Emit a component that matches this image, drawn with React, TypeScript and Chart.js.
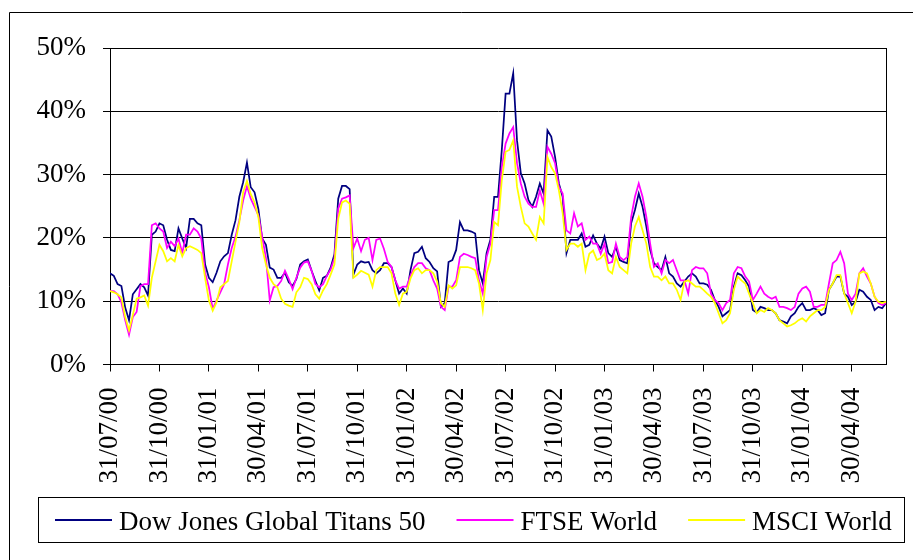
import React, { useEffect, useRef } from "react";
import { Chart, registerables } from "chart.js";

Chart.register(...registerables);

// Quarter-end tick labels (13 weekly observations per quarter)
const quarterLabels = [
  "31/07/00", "31/10/00", "31/01/01", "30/04/01", "31/07/01", "31/10/01",
  "31/01/02", "30/04/02", "31/07/02", "31/10/02", "31/01/03", "30/04/03",
  "31/07/03", "31/10/03", "31/01/04", "30/04/04",
];
const weeksPerQuarter = 13;

const seriesNames = ["Dow Jones Global Titans 50", "FTSE World", "MSCI World"];
const seriesColors = ["#000080", "#FF00FF", "#FFFF00"];

// Weekly volatility readings (%)
const dowJones = [
  14.4, 14.0, 12.7, 12.4, 9.0, 7.0, 11.1, 11.9, 12.7, 12.2, 10.9, 20.5, 21.0,
  22.3, 22.0, 19.7, 18.1, 17.9, 21.5, 19.9, 18.4, 23.0, 23.0, 22.3, 22.0, 15.8,
  13.7, 13.0, 14.5, 16.3, 17.1, 17.6, 20.5, 22.8, 26.5, 28.8, 31.9, 28.0, 27.2,
  24.6, 19.9, 18.9, 15.3, 15.0, 13.7, 13.7, 14.5, 13.0, 12.4, 13.5, 15.8, 16.3,
  16.6, 14.8, 13.2, 11.7, 13.7, 14.0, 15.3, 17.4, 26.2, 28.2, 28.2, 27.7, 14.2,
  15.8, 16.3, 16.1, 16.2, 14.9, 14.4, 14.9, 16.0, 16.0, 15.4, 13.3, 11.2, 12.0,
  11.2, 14.9, 17.6, 17.8, 18.6, 16.8, 16.2, 15.2, 14.7, 9.1, 9.7, 16.2, 16.5,
  18.1, 22.5, 21.2, 21.2, 21.0, 20.7, 14.9, 12.8, 17.6, 19.7, 26.5, 26.5, 33.9,
  42.8, 42.8, 46.0, 35.4, 30.2, 28.6, 26.0, 24.9, 26.5, 28.6, 27.0, 37.0, 36.0,
  32.8, 28.6, 26.5, 17.6, 19.7, 19.7, 19.7, 20.7, 18.6, 18.9, 20.4, 19.1, 18.3,
  20.2, 17.6, 17.0, 18.6, 16.5, 16.2, 16.0, 22.3, 24.4, 27.0, 24.9, 21.8, 18.1,
  16.0, 15.4, 14.9, 17.0, 14.4, 13.9, 12.8, 12.3, 13.1, 13.9, 14.4, 13.9, 12.8,
  12.8, 12.6, 11.8, 10.2, 9.1, 7.6, 8.1, 8.6, 12.3, 14.4, 14.1, 13.3, 12.3, 8.6,
  8.2, 9.1, 8.9, 8.6, 8.6, 8.1, 7.0, 6.8, 6.5, 7.6, 8.1, 9.1, 9.7, 8.6, 8.6, 8.9,
  8.6, 7.8, 8.1, 11.8, 12.8, 13.9, 13.9, 11.2, 10.7, 9.4, 9.9, 11.8, 11.5, 10.7,
  10.2, 8.6, 9.1, 8.9, 9.7,
];

const ftseWorld = [
  11.6, 11.6, 11.1, 9.8, 7.0, 4.7, 7.5, 8.3, 12.4, 12.7, 12.7, 22.0, 22.3, 21.5,
  21.0, 18.4, 19.4, 18.7, 19.9, 17.6, 20.5, 20.5, 21.5, 21.0, 19.9, 14.5, 12.2,
  8.8, 10.1, 11.4, 12.7, 15.8, 18.4, 20.2, 22.8, 25.9, 28.2, 26.2, 24.9, 23.6,
  20.2, 16.8, 10.1, 12.2, 12.4, 13.2, 14.8, 13.5, 11.9, 13.7, 15.3, 16.1, 16.3,
  14.8, 12.7, 12.2, 12.7, 14.0, 15.0, 16.8, 24.6, 26.2, 26.4, 26.7, 18.4, 19.9,
  17.9, 19.7, 20.0, 16.5, 19.7, 19.9, 18.3, 16.2, 15.4, 13.3, 12.0, 12.3, 12.3,
  14.1, 15.4, 16.0, 16.0, 15.2, 14.9, 13.3, 12.0, 9.1, 8.6, 12.3, 12.3, 13.3,
  17.0, 17.5, 17.3, 17.0, 16.8, 13.3, 11.2, 17.0, 19.1, 24.4, 24.4, 31.2, 34.9,
  36.5, 37.5, 31.8, 28.6, 26.5, 25.4, 24.9, 24.9, 27.5, 25.4, 34.4, 33.3, 31.8,
  28.1, 27.0, 21.2, 20.7, 23.9, 21.8, 22.3, 19.7, 20.2, 19.1, 19.1, 17.5, 19.1,
  16.0, 16.2, 19.1, 17.0, 16.5, 17.0, 23.3, 26.5, 28.6, 26.5, 23.3, 19.1, 15.4,
  16.0, 14.4, 16.5, 16.0, 16.5, 14.9, 13.3, 13.3, 11.2, 14.9, 15.4, 15.2, 15.2,
  14.4, 11.2, 10.2, 9.7, 8.6, 9.7, 10.2, 14.4, 15.4, 15.2, 13.9, 13.1, 10.2,
  11.2, 12.3, 11.2, 10.7, 10.4, 10.7, 9.1, 9.1, 8.9, 8.6, 9.1, 11.2, 12.0, 12.3,
  11.5, 9.1, 9.1, 9.4, 9.4, 12.8, 16.0, 16.5, 17.8, 16.0, 11.2, 10.2, 11.2, 14.4,
  15.2, 13.9, 12.8, 10.7, 9.7, 9.4, 9.7,
];

const msciWorld = [
  11.6, 11.4, 11.1, 10.6, 7.5, 5.4, 7.8, 10.4, 10.6, 10.9, 9.3, 13.7, 16.3, 18.9,
  17.9, 16.3, 16.8, 16.3, 18.9, 17.1, 18.4, 18.7, 18.4, 18.1, 17.6, 13.7, 10.1,
  8.5, 9.8, 12.2, 12.7, 13.2, 16.3, 19.4, 22.5, 27.2, 29.0, 26.9, 25.6, 23.3,
  18.4, 15.8, 13.7, 12.7, 12.2, 10.4, 9.6, 9.3, 9.1, 11.4, 12.2, 13.7, 13.5,
  12.7, 11.1, 10.4, 11.7, 12.7, 14.2, 15.8, 23.0, 25.6, 25.9, 25.4, 13.7, 14.2,
  14.8, 14.5, 14.2, 12.3, 14.9, 15.4, 15.4, 15.4, 14.4, 11.2, 9.4, 11.2, 11.5,
  13.6, 14.9, 15.2, 14.4, 14.9, 14.9, 14.4, 13.1, 9.7, 9.1, 12.5, 12.0, 12.5,
  15.4, 15.4, 15.4, 15.2, 14.9, 12.8, 8.6, 14.4, 16.5, 22.5, 22.0, 29.1, 33.6,
  33.9, 35.4, 28.1, 24.9, 22.3, 21.8, 20.7, 19.7, 23.3, 22.3, 32.8, 31.2, 30.2,
  27.5, 23.9, 18.1, 19.1, 19.1, 18.6, 19.1, 14.9, 17.5, 18.0, 16.5, 16.8, 17.5,
  14.9, 14.4, 17.0, 15.4, 14.9, 14.4, 19.1, 21.8, 23.3, 21.2, 19.1, 15.4, 13.9,
  13.9, 13.3, 13.9, 12.8, 12.8, 11.8, 10.2, 13.1, 13.3, 12.8, 12.3, 12.3, 11.8,
  11.2, 10.7, 9.7, 8.1, 6.5, 7.0, 8.1, 11.8, 13.9, 13.3, 12.8, 11.2, 9.7, 8.1,
  8.6, 8.3, 8.9, 8.6, 8.1, 7.0, 6.5, 6.0, 6.2, 6.5, 7.0, 7.3, 6.8, 7.6, 8.1, 8.6,
  8.6, 9.1, 11.8, 12.8, 14.1, 14.1, 11.2, 9.7, 8.1, 9.9, 14.4, 14.7, 14.4, 12.8,
  10.7, 9.9, 9.7, 9.9,
];

const yTicks = [0, 10, 20, 30, 40, 50];

const FONT_FAMILY = "'Times New Roman', 'Liberation Serif', serif";
const FONT_SIZE = 27;

const framePlugin = {
  id: "frameAndLegend",
  afterDraw(chart: any) {
    const ctx = chart.ctx as CanvasRenderingContext2D;
    const { right, top, bottom } = chart.chartArea;
    ctx.save();
    ctx.strokeStyle = "#000";
    ctx.lineWidth = 1;
    // outer chart frame
    ctx.beginPath();
    ctx.moveTo(9.5, 560);
    ctx.lineTo(9.5, 12.5);
    ctx.lineTo(913, 12.5);
    ctx.stroke();
    // plot area right border
    ctx.beginPath();
    ctx.moveTo(Math.round(right) + 0.5, top);
    ctx.lineTo(Math.round(right) + 0.5, bottom);
    ctx.stroke();
    // legend box
    ctx.strokeRect(38.5, 497.5, 866, 45);
    ctx.font = `${FONT_SIZE}px ${FONT_FAMILY}`;
    ctx.textBaseline = "alphabetic";
    ctx.textAlign = "left";
    let x = 55;
    chart.data.datasets.forEach((ds: any) => {
      ctx.strokeStyle = ds.borderColor;
      ctx.lineWidth = 2;
      ctx.beginPath();
      ctx.moveTo(x, 520);
      ctx.lineTo(x + 57, 520);
      ctx.stroke();
      x += 57 + 7;
      ctx.fillStyle = "#000";
      ctx.fillText(ds.label, x, 529.5);
      x += ctx.measureText(ds.label).width + 31;
    });
    ctx.restore();
  },
};

export default function App() {
  const canvasRef = useRef<HTMLCanvasElement | null>(null);

  useEffect(() => {
    if (!canvasRef.current) return;
    const series = [dowJones, ftseWorld, msciWorld];
    const lastIndex = dowJones.length - 1;
    const quarterIdx = quarterLabels.map((_, k) => k * weeksPerQuarter);
    const chart = new Chart(canvasRef.current, {
      type: "line",
      data: {
        datasets: series.map((vals, s) => ({
          label: seriesNames[s],
          data: vals.map((v, i) => ({ x: i, y: v })),
          borderColor: seriesColors[s],
          backgroundColor: seriesColors[s],
          borderWidth: 1.75,
          pointRadius: 0,
          tension: 0,
          fill: false,
          order: 2 - s,
        })),
      },
      options: {
        animation: false,
        responsive: false,
        events: [],
        layout: { padding: { left: 0, right: 27, top: 48, bottom: 65.5 } },
        plugins: {
          legend: { display: false },
          tooltip: { enabled: false },
          title: { display: false },
        },
        scales: {
          x: {
            type: "linear",
            min: 0,
            max: lastIndex,
            afterBuildTicks: (axis: any) => {
              axis.ticks = quarterIdx.map((v) => ({ value: v }));
            },
            afterFit: (axis: any) => {
              axis.height = 130;
            },
            grid: {
              drawOnChartArea: false,
              drawTicks: true,
              tickLength: 7,
              color: "#000",
              lineWidth: 1,
            },
            border: { display: true, color: "#000", width: 1 },
            ticks: {
              autoSkip: false,
              maxRotation: 90,
              minRotation: 90,
              padding: 16,
              color: "#000",
              font: { family: FONT_FAMILY, size: FONT_SIZE },
              callback: (value: any) => {
                const k = quarterIdx.indexOf(Number(value));
                return k >= 0 ? quarterLabels[k] : "";
              },
            },
          },
          y: {
            type: "linear",
            min: 0,
            max: 50,
            afterBuildTicks: (axis: any) => {
              axis.ticks = yTicks.map((v) => ({ value: v }));
            },
            afterFit: (axis: any) => {
              axis.width = 110;
            },
            grid: {
              drawOnChartArea: true,
              drawTicks: true,
              tickLength: 7,
              color: "#000",
              lineWidth: 1,
            },
            border: { display: true, color: "#000", width: 1 },
            ticks: {
              padding: 17,
              color: "#000",
              font: { family: FONT_FAMILY, size: FONT_SIZE },
              callback: (value: any) => `${value}%`,
            },
          },
        },
      },
      plugins: [framePlugin],
    });
    return () => chart.destroy();
  }, []);

  return (
    <div
      style={{
        position: "absolute",
        left: 0,
        top: 0,
        width: 913,
        height: 560,
        background: "#fff",
        overflow: "hidden",
      }}
    >
      <canvas
        ref={canvasRef}
        width={913}
        height={560}
        style={{ display: "block", width: 913, height: 560 }}
      />
    </div>
  );
}
